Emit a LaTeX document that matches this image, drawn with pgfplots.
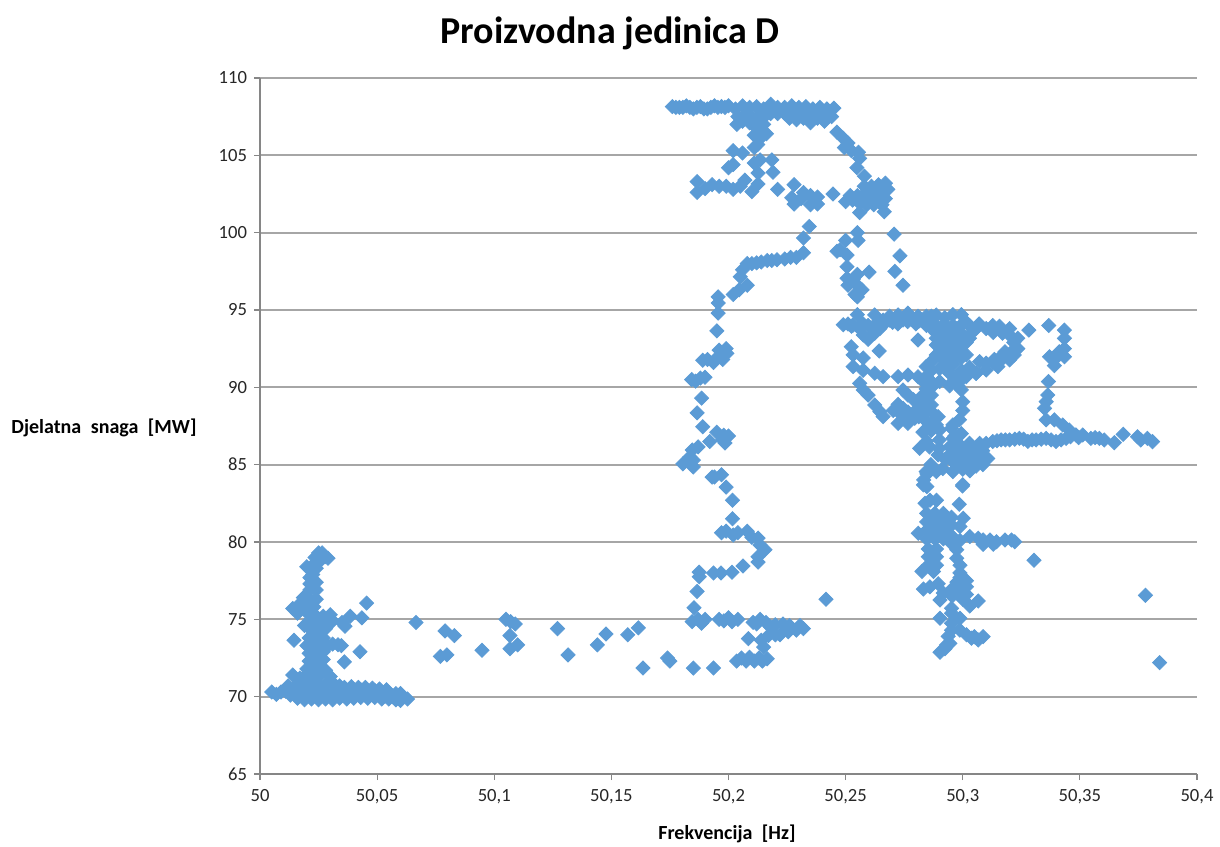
\documentclass[border=0pt]{standalone}
\usepackage{fontspec}
\setmainfont{Carlito}
\usepackage{pgfplots}
\pgfplotsset{compat=1.18}
\definecolor{pts}{HTML}{5B9BD5}
\definecolor{gridc}{HTML}{A6A6A6}
\definecolor{axc}{HTML}{868686}
\begin{document}
\begin{tikzpicture}
% 1 px of the reference = 0.5pt
\path[use as bounding box] (-130pt,-36pt) rectangle (480pt,387pt);
\begin{axis}[
	at={(0pt,0pt)},anchor=south west,
	scale only axis,width=468.5pt,height=348pt,
	xmin=50,xmax=50.4,ymin=65,ymax=110,
	xtick={50,50.05,50.1,50.15,50.2,50.25,50.3,50.35,50.4},
	ytick={65,70,...,110},
	axis x line*=bottom,axis y line*=left,
	axis line style={axc,line width=0.6pt,-},
	tick style={axc,line width=0.6pt},
	tick align=outside,major tick length=3pt,
	ymajorgrids,
	major grid style={gridc,line width=0.9pt},
	/pgf/number format/.cd,use comma,fixed,precision=2,1000 sep={},assume math mode=true,
	/pgfplots/.cd,
	tick label style={font=\fontsize{9.3}{11}\selectfont,text=black!85},
	xticklabel style={yshift=-1pt},
	title={\textbf{Proizvodna jedinica D}},
	title style={font=\fontsize{19}{22}\selectfont,at={(175pt,364.5pt)},anchor=center},
	xlabel={\textbf{Frekvencija\hspace{2.5pt} [Hz]}},
	xlabel style={font=\fontsize{10}{12}\selectfont,at={(233.5pt,-30pt)},anchor=center},
	ylabel={\textbf{Djelatna\hspace{2.5pt} snaga\hspace{2.5pt} [MW]}},
	ylabel style={font=\fontsize{10}{12}\selectfont,rotate=-90,at={(-78pt,173pt)},anchor=center},
	clip=false,
]
\addplot[only marks,color=pts,mark=square*,mark size=2.5pt,mark options={rotate=45}] coordinates {
	% bottom band
	(50.005,70.3)(50.007,70.15)(50.009,70.3)(50.011,70.35)(50.013,70.1)(50.015,70.4)(50.012,70.7)(50.014,71.4)
	(50.016,69.9)(50.016,70.8)(50.017,71.2)(50.019,69.8)(50.019,70.3)(50.019,70.8)(50.019,71.3)
	(50.022,69.85)(50.022,70.3)(50.022,70.8)(50.022,71.3)(50.025,69.8)(50.025,70.3)(50.025,70.8)(50.025,71.3)
	(50.028,69.85)(50.028,70.3)(50.028,70.8)(50.028,71.7)(50.031,69.8)(50.031,70.3)(50.031,70.9)(50.03,71.3)
	(50.034,69.9)(50.034,70.4)(50.034,70.7)(50.037,69.85)(50.037,70.3)(50.04,69.9)(50.04,70.4)
	(50.043,69.95)(50.043,70.45)(50.046,69.9)(50.046,70.4)(50.049,69.95)(50.049,70.4)(50.052,69.85)(50.052,70.3)
	(50.055,69.85)(50.055,70.25)(50.058,69.8)(50.058,70.2)(50.06,69.75)(50.06,70.2)(50.063,69.85)
	(50.036,70.6)(50.039,70.65)(50.042,70.6)(50.045,70.6)(50.048,70.55)(50.051,70.5)(50.054,70.45)
	(50.035,70.15)(50.0385,70.15)(50.0415,70.15)(50.0445,70.15)(50.0475,70.15)(50.0505,70.1)(50.0535,70.05)(50.0565,70)(50.0595,70)
	% stem
	(50.02,71.8)(50.023,71.8)(50.026,71.8)(50.021,72.3)(50.024,72.3)(50.027,72.4)(50.021,72.8)(50.024,72.8)(50.027,72.9)
	(50.02,73.3)(50.023,73.3)(50.026,73.3)(50.029,73.3)(50.031,73.4)(50.0333,73.35)(50.021,73.8)(50.024,73.8)(50.027,73.8)
	(50.022,74.3)(50.025,74.3)(50.028,74.4)(50.019,74.6)(50.022,74.8)(50.025,74.8)(50.028,74.9)(50.031,74.9)
	(50.021,75.3)(50.024,75.2)(50.027,75.2)(50.029,75.1)(50.014,75.7)(50.016,75.4)(50.017,76)(50.02,75.7)(50.023,75.8)
	(50.0185,76.4)(50.021,76.3)(50.024,76.3)(50.0213,76.9)(50.024,76.9)(50.0213,77.3)(50.024,77.4)(50.0213,77.7)
	(50.022,78.2)(50.0235,78.65)(50.02,78.4)(50.025,79.3)(50.0278,79.05)(50.0235,79)(50.025,78.8)(50.0265,79.3)(50.029,78.95)
	(50.0225,77.9)(50.024,78.3)(50.0265,78.9)(50.0185,75.7)(50.0285,74.6)(50.03,75.3)(50.0255,71.9)(50.0235,72.6)(50.0255,73.05)
	% sparse left
	(50.0455,76.05)(50.0435,75.1)(50.0385,75.2)(50.0363,74.55)(50.035,74.8)(50.0145,73.65)(50.0427,72.9)(50.036,72.25)(50.0347,73.3)
	(50.0666,74.8)(50.079,74.25)(50.083,73.95)(50.077,72.6)(50.0798,72.7)(50.0948,73)(50.105,75)(50.107,74.85)(50.109,74.7)
	(50.1067,73.95)(50.1067,73.1)(50.11,73.35)(50.127,74.4)(50.1315,72.7)(50.144,73.35)(50.1477,74.05)(50.157,74)(50.1615,74.45)(50.1635,71.85)
	(50.174,72.5)(50.175,72.3)(50.185,71.85)(50.1936,71.85)
	% isolated
	(50.2416,76.3)(50.378,76.55)(50.384,72.2)(50.3304,78.82)
	% left loop, lower
	(50.2035,72.3)(50.2055,72.5)(50.2075,72.3)(50.209,72.55)(50.211,72.3)(50.213,72.5)(50.2145,72.3)(50.2165,72.45)
	(50.2085,73.75)(50.214,73.65)(50.217,73.95)(50.215,73.2)(50.22,74.65)(50.2233,74.7)(50.2305,74.6)(50.232,74.4)(50.229,74.3)
	(50.2255,74.2)(50.222,74)(50.22,74)(50.226,74.6)(50.218,74.5)
	(50.1845,74.85)(50.1885,74.75)(50.19,75)(50.196,75)(50.2,75.1)(50.2015,74.85)(50.204,75)(50.187,75)(50.198,74.9)
	(50.2105,74.8)(50.2135,75)(50.212,74.7)(50.216,74.8)(50.1853,75.75)(50.1866,76.8)(50.1875,77.75)(50.1875,78.05)
	(50.1936,78)(50.1968,78)(50.2015,78.05)(50.2062,78.45)(50.2126,78.7)(50.2126,79.05)(50.2156,79.5)(50.2135,79.8)
	(50.2126,80.25)(50.21,80.3)(50.208,80.7)(50.204,80.6)(50.202,80.45)(50.199,80.7)(50.197,80.6)(50.2017,81.5)(50.2017,82.7)
	(50.199,83.55)(50.197,84.35)(50.194,84.2)(50.193,84.2)(50.185,84.85)(50.1805,85.05)(50.185,85.3)(50.1835,85.5)(50.1845,85.95)(50.187,86.15)
	(50.192,86.5)(50.1985,86.4)(50.1975,86.6)(50.2,86.85)(50.195,87.1)(50.198,86.9)(50.189,87.45)(50.1866,88.35)(50.1885,89.3)
	(50.19,90.65)(50.188,90.6)(50.1843,90.5)(50.186,90.4)(50.189,91.75)(50.1936,91.6)(50.1975,91.8)(50.1993,92.2)(50.199,92.5)(50.195,91.9)
	(50.198,92.1)(50.196,92.4)(50.191,91.8)(50.195,93.65)(50.1956,94.8)(50.1956,95.45)(50.1956,95.85)
	% left loop, upper
	(50.202,96)(50.2045,96.3)(50.208,96.6)(50.205,97.15)(50.206,97.6)(50.208,98)(50.212,98.05)(50.2165,98.2)(50.2207,98.25)
	(50.2265,98.4)(50.229,98.4)(50.232,98.7)(50.232,99.65)(50.2345,100.4)(50.21,98)(50.214,98.1)(50.2185,98.2)(50.224,98.3)
	% top rows
	(50.176,108.15)(50.179,108.1)(50.182,108.2)(50.185,108)(50.188,108.15)(50.191,108)(50.194,108.2)(50.197,108.15)
	(50.2,108.2)(50.203,108)(50.206,108.2)(50.209,108.1)(50.212,108.15)(50.215,108)(50.218,108.3)(50.221,108.1)(50.224,108.1)
	(50.227,108.2)(50.23,108.1)(50.233,108.15)(50.236,108)(50.239,108.1)(50.242,108)(50.245,108.05)
	(50.1775,108.1)(50.1805,108.1)(50.1835,108.1)(50.1865,108.1)(50.1895,108)(50.1925,108.1)(50.1955,108.1)(50.1985,108.1)
	(50.207,107.6)(50.21,107.5)(50.213,107.5)(50.216,107.6)(50.226,107.4)(50.229,107.3)(50.232,107.4)(50.235,107.1)(50.238,107.4)(50.241,107.2)(50.244,107.5)
	(50.2036,107)(50.206,107.2)(50.211,106.9)(50.211,106.3)(50.2135,106.6)(50.2162,106.4)(50.2135,106.1)(50.211,105.5)(50.2125,105.7)
	(50.202,105.3)(50.206,105.15)(50.211,104.5)(50.2185,104.7)(50.219,103.9)(50.2126,103.85)(50.202,104.4)(50.2,104.2)(50.2135,104.7)
	(50.1866,103.3)(50.1866,102.6)(50.19,102.85)(50.193,103.1)(50.196,103)(50.199,103)(50.202,102.8)(50.207,103.4)(50.205,103)(50.21,102.65)(50.2126,103.15)(50.221,102.8)
	(50.228,103.1)(50.232,102.6)(50.227,102.25)(50.228,101.85)(50.235,102.4)(50.235,101.8)(50.238,102.3)(50.238,101.85)(50.231,102.2)(50.2446,102.5)
	(50.2463,106.5)(50.249,106.1)(50.251,105.8)(50.2495,105.5)(50.2555,105.2)(50.256,104.8)(50.2548,104.2)(50.258,103.65)(50.2525,105.3)
	(50.218,107.7)(50.221,107.7)(50.224,107.7)(50.227,107.7)(50.23,107.7)(50.233,107.7)(50.236,107.7)(50.239,107.7)(50.242,107.7)
	(50.213,107)(50.215,107)(50.204,107.5)(50.209,107.1)
	% right top blob
	(50.25,102)(50.253,102.1)(50.255,102.4)(50.256,101.9)(50.258,103)(50.258,102.5)(50.258,102.1)(50.261,103)(50.261,102.6)(50.261,102.2)
	(50.264,103.1)(50.264,102.6)(50.264,102.1)(50.267,103.2)(50.267,102.7)(50.267,102.2)(50.256,101.3)(50.2665,101.35)(50.259,101.8)
	(50.2476,98.9)(50.2506,98.55)(50.2463,98.8)(50.255,100)(50.2553,99.5)(50.25,99.5)(50.2506,97.8)(50.2506,97.05)(50.251,96.6)(50.255,97.3)
	(50.26,97.45)(50.255,96.6)(50.254,96)(50.257,96.3)(50.2533,97)(50.2707,99.9)(50.2732,98.5)(50.271,97.5)(50.2745,96.6)
	(50.252,102.4)(50.262,101.8)(50.2655,101.8)(50.268,102.8)
	% right top band
	(50.249,94.05)(50.251,94.1)(50.2525,93.95)(50.255,94.7)(50.255,95.85)(50.2575,94.1)(50.2596,94)(50.2624,94.03)
	(50.2624,94.68)(50.266,94.35)(50.2688,94.6)(50.2724,94.68)(50.2745,94.35)(50.2766,94.8)(50.2809,94.6)(50.283,94.35)(50.2866,94.6)
	(50.2887,94.68)(50.2923,94.5)(50.2958,94.7)(50.2994,94.7)(50.3015,94.2)(50.307,94.1)(50.3128,94)(50.3157,93.95)(50.32,93.8)(50.3235,93.17)(50.3235,92.5)
	(50.322,92.09)(50.32,91.77)(50.3157,91.66)(50.315,91.34)(50.31,91.12)(50.3057,90.91)(50.3015,90.69)(50.2986,90.37)
	(50.3029,94.0)(50.31,93.8)(50.3043,93.6)(50.3029,93.17)(50.3072,91.66)(50.31,91.56)(50.3128,91.66)(50.318,92.3)(50.3157,91.9)
	(50.3057,93.8)(50.313,93.55)(50.317,93.5)(50.3205,93.3)(50.3218,92.9)(50.3222,92.5)(50.3135,91.8)
	(50.2701,94.2)(50.2723,94.1)(50.2765,94.25)(50.28,94.1)(50.2845,94)(50.2868,93.8)(50.278,94.4)(50.2845,94.6)(50.2815,94.3)
	(50.2887,94.03)(50.2923,94)(50.2958,94)(50.2994,94.03)(50.2887,93.5)(50.2923,93.5)(50.2958,93.5)(50.2994,93.5)
	(50.2887,93.17)(50.2923,93.17)(50.2958,93.17)(50.2994,93.17)(50.3015,92.9)(50.2887,92.74)(50.2923,92.74)(50.2958,92.74)(50.2994,92.74)
	(50.2923,92.3)(50.2958,92.3)(50.2994,92.3)(50.3015,92.1)(50.2887,92.09)(50.2923,91.9)(50.2958,91.9)(50.2994,91.9)(50.2866,91.66)(50.2923,91.5)(50.2958,91.5)
	(50.2905,92.5)(50.294,92.5)(50.2975,92.5)(50.2905,93.3)(50.294,93.3)(50.2975,93.3)(50.2905,93.8)(50.294,93.8)(50.2975,93.8)(50.2905,92)(50.294,92.1)(50.2975,92.1)
	(50.2844,91.34)(50.2866,91.1)(50.2901,91.2)(50.2844,90.7)(50.2866,90.37)(50.2901,90.37)(50.2958,90.37)(50.298,90.7)(50.2944,90.9)
	% left edge of the big hole
	(50.2532,94.03)(50.256,93.8)(50.2575,93.38)(50.2596,93.1)(50.2624,93.49)(50.266,94.03)(50.2688,94.35)(50.2646,93.8)
	(50.2524,92.63)(50.2532,92.1)(50.2575,91.9)(50.2809,93.06)(50.2643,92.35)(50.2532,91.34)(50.2575,91.1)(50.2624,90.91)(50.266,90.69)
	(50.2724,90.69)(50.2766,90.8)(50.2809,90.69)(50.2830,90.4)(50.256,90.26)(50.2575,89.83)(50.2596,89.5)(50.2624,88.86)(50.2646,88.43)(50.266,88.1)
	(50.2724,87.67)(50.2766,87.67)(50.2795,88)(50.2745,88.64)(50.2703,88.5)(50.2724,88.9)(50.2766,88.4)(50.2745,89.83)(50.2766,89.5)(50.2809,89.07)
	(50.2739,88.2)(50.2809,88.64)(50.2844,89.9)(50.283,89.5)(50.2844,89.07)(50.2844,88.43)(50.2866,87.67)(50.2887,87.57)(50.283,87.1)(50.2901,87.24)(50.2952,87.35)(50.2958,86.7)
	(50.2866,89.5)(50.2866,88.86)(50.2875,88.3)(50.2994,89.83)(50.3,89.07)(50.3,88.5)(50.2986,87.9)(50.2958,87.57)(50.2866,90)(50.2895,88.1)
	(50.298,90.1)(50.2944,90.1)(50.2812,88.1)(50.2825,88.7)(50.279,89.2)(50.2845,87.8)(50.2865,87.2)
	% lens and right of the mass
	(50.3057,90.9)(50.2994,91.1)(50.3029,91.3)
	% right arm
	(50.3282,93.7)(50.3367,94)(50.3434,93.7)(50.3434,93.17)(50.3434,92.5)(50.3434,91.98)(50.337,91.98)(50.3391,91.4)(50.3412,92.3)(50.3405,92)
	(50.3366,90.37)(50.3363,89.5)(50.3356,89.07)(50.3349,88.64)(50.3356,87.9)(50.3391,87.9)(50.3427,87.56)(50.3455,87.24)
	(50.3128,86.5)(50.3164,86.6)(50.32,86.6)(50.3242,86.7)(50.3278,86.5)(50.3313,86.6)(50.3356,86.7)(50.3398,86.5)(50.3441,86.7)
	(50.3483,86.92)(50.3512,86.92)(50.3547,86.7)(50.3583,86.7)(50.3604,86.6)(50.3647,86.42)(50.3685,86.96)(50.3746,86.8)(50.376,86.6)(50.381,86.49)(50.3788,86.7)
	(50.3146,86.55)(50.3182,86.6)(50.3222,86.65)(50.326,86.65)(50.3296,86.6)(50.3335,86.65)(50.3377,86.6)(50.342,86.6)(50.346,86.8)(50.3495,86.75)(50.3565,86.75)
	% central lower mass
	(50.2816,86.06)(50.2858,86.15)(50.29,86.06)(50.2944,86.15)(50.2986,86.3)(50.3029,86.38)(50.3072,86.38)(50.31,86.38)
	(50.2895,85.63)(50.2944,85.63)(50.2986,85.63)(50.3029,85.63)(50.3072,85.63)(50.3107,85.4)(50.2958,85.2)(50.3,85.2)(50.3043,85.2)(50.3086,85)
	(50.2887,84.55)(50.2844,84.55)(50.2915,84.75)(50.2958,84.55)(50.3,84.7)(50.303,84.6)(50.3057,84.9)(50.2864,85)(50.2833,84.01)(50.2847,84.4)(50.2847,83.58)(50.3,83.7)
	(50.2966,86.85)(50.29,86.6)(50.2845,86.5)(50.2994,87)
	(50.2975,85.9)(50.3005,85.9)(50.305,85.9)(50.3085,85.9)(50.2925,85.35)(50.2975,84.95)(50.3015,84.95)(50.2975,85.4)(50.3015,85.4)
	% lower column
	(50.2999,83.62)(50.2985,82.44)(50.2839,82.5)(50.286,82.7)(50.2888,82.7)(50.2832,83.69)
	(50.2846,81.85)(50.2881,81.85)(50.2917,81.85)(50.2952,81.6)(50.3002,81.53)(50.2846,81.3)(50.2881,81.3)(50.2917,81.3)(50.2952,81.1)(50.2988,81)
	(50.281,80.56)(50.2846,80.75)(50.2881,80.75)(50.2917,80.75)(50.2952,80.4)(50.2846,80.2)(50.2881,80.2)(50.2917,80.2)(50.2952,79.9)(50.2988,80.1)
	(50.303,80.35)(50.3066,80.24)(50.3087,80.13)(50.3116,80.13)(50.3144,80.02)(50.318,80.13)(50.3208,80.13)(50.3222,80.02)(50.3087,79.85)(50.313,79.85)
	(50.2865,81.55)(50.29,81.55)(50.2935,81.55)(50.2865,81)(50.29,81)(50.2935,81)(50.2865,80.45)(50.29,80.45)(50.2935,80.45)
	(50.2853,79.55)(50.2888,79.55)(50.2853,79.05)(50.2888,79.05)(50.2853,78.5)(50.2888,78.5)(50.2826,78.1)(50.2875,78.1)(50.287,79.3)(50.287,78.8)(50.287,78.25)
	(50.2974,79.5)(50.2974,78.95)(50.2988,78.5)(50.2988,78)(50.2988,77.7)(50.3016,77.5)(50.3016,77.1)(50.3016,76.6)(50.2988,77.1)(50.2988,76.6)
	(50.2832,76.96)(50.2860,77.1)(50.2895,77.3)(50.2917,76.7)(50.2903,76.25)(50.2955,76.5)(50.3,76.3)(50.295,76.9)(50.2975,77.4)(50.2975,76.8)
	(50.3066,76.19)(50.303,75.86)(50.2952,75.71)(50.2952,75.4)(50.2903,75.07)(50.2988,75.07)(50.2952,74.75)(50.2952,74.3)(50.2988,74.3)(50.2938,73.9)
	(50.3016,74)(50.305,73.88)(50.3087,73.88)(50.3066,73.67)(50.3037,73.78)(50.2945,73.45)(50.2924,73.1)(50.2903,72.87)(50.2931,73.35)
};
\end{axis}
\end{tikzpicture}
\end{document}
